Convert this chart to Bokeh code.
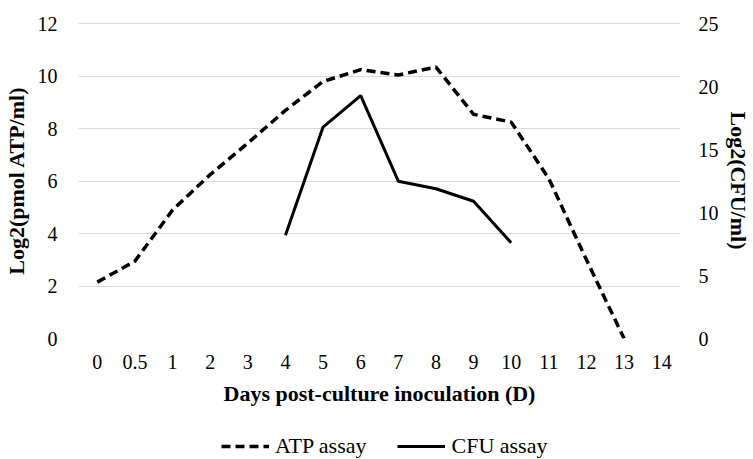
from bokeh.plotting import figure
from bokeh.layouts import column
from bokeh.models import (FactorRange, Range1d, LinearAxis, Legend, LegendItem,
                          ColumnDataSource, FixedTicker)
from bokeh.embed import file_html
from bokeh.resources import INLINE

# ---- data ----
days = ["0", "0.5", "1", "2", "3", "4", "5", "6", "7", "8", "9", "10", "11", "12", "13", "14"]
atp_days = ["0", "0.5", "1", "2", "3", "4", "5", "6", "7", "8", "9", "10", "11", "12", "13"]
atp_values = [2.15, 2.95, 4.9, 6.25, 7.45, 8.7, 9.8, 10.25, 10.05, 10.35, 8.55, 8.25, 6.1, 3.0, 0.0]
cfu_days = ["4", "5", "6", "7", "8", "9", "10"]
cfu_values = [8.2, 16.8, 19.3, 12.5, 11.9, 10.9, 7.6]
left_ticks = [0, 2, 4, 6, 8, 10, 12]
right_ticks = [0, 5, 10, 15, 20, 25]
series_names = ["ATP assay", "CFU assay"]

FONT = "Liberation Serif"
TOP = 12.05  # small headroom so the top grid line is drawn
ATP_STYLE = dict(line_color="black", line_width=3.5, line_dash="9 5")
CFU_STYLE = dict(line_color="black", line_width=3)

p = figure(width=753, height=430, output_backend="svg", toolbar_location=None,
           x_range=FactorRange(factors=days, range_padding=0),
           y_range=Range1d(0, TOP),
           min_border_left=78, min_border_right=72, min_border_top=22,
           min_border_bottom=92)
p.extra_y_ranges = {"cfu": Range1d(0, 25 * TOP / 12)}
p.outline_line_color = None
p.background_fill_color = "white"
p.border_fill_color = "white"

p.xgrid.grid_line_color = None
p.ygrid.grid_line_color = "#d9d9d9"
p.ygrid.grid_line_width = 1
p.yaxis.ticker = FixedTicker(ticks=left_ticks)

atp_src = ColumnDataSource(dict(x=atp_days, y=atp_values))
cfu_src = ColumnDataSource(dict(x=cfu_days, y=cfu_values))

p.line("x", "y", source=atp_src, **ATP_STYLE)
p.line("x", "y", source=cfu_src, y_range_name="cfu", **CFU_STYLE)

raxis = LinearAxis(y_range_name="cfu", ticker=FixedTicker(ticks=right_ticks),
                   axis_label="Log2(CFU/ml)")
p.add_layout(raxis, "right")

for ax in [p.xaxis[0], p.yaxis[0], raxis]:
    ax.axis_line_color = None
    ax.major_tick_line_color = None
    ax.minor_tick_line_color = None
    ax.major_label_text_font = FONT
    ax.major_label_text_font_size = "20px"
    ax.major_label_text_color = "black"
    ax.axis_label_text_font = FONT
    ax.axis_label_text_font_size = "22px"
    ax.axis_label_text_font_style = "bold"
    ax.axis_label_text_color = "black"

p.xaxis.axis_label = "Days post-culture inoculation (D)"
p.yaxis[0].axis_label = "Log2(pmol ATP/ml)"
p.xaxis.major_label_standoff = 10
p.xaxis.axis_label_standoff = 9
p.yaxis[0].major_label_standoff = 15
p.yaxis[0].axis_label_standoff = 6
raxis.major_label_standoff = 12
raxis.axis_label_standoff = 4

# ---- legend strip below the chart (series drawn out of view, legend only) ----
lg = figure(width=753, height=29, output_backend="svg", toolbar_location=None,
            x_range=FactorRange(factors=days, range_padding=0),
            y_range=Range1d(-100, -99),
            x_axis_location=None, y_axis_location=None,
            min_border_left=0, min_border_right=0, min_border_top=0,
            min_border_bottom=0)
lg.outline_line_color = None
lg.grid.grid_line_color = None
lg.background_fill_color = "white"
lg.border_fill_color = "white"
lg_atp = lg.line("x", "y", source=atp_src, **ATP_STYLE)
lg_cfu = lg.line("x", "y", source=cfu_src, **CFU_STYLE)
legend = Legend(items=[LegendItem(label=series_names[0], renderers=[lg_atp]),
                       LegendItem(label=series_names[1], renderers=[lg_cfu])],
                orientation="horizontal", location=(143, 0),
                label_text_font=FONT, label_text_font_size="22px",
                label_text_color="black",
                glyph_width=48, glyph_height=20, label_height=20,
                label_standoff=6, spacing=31, padding=0,
                margin=0, border_line_color=None, background_fill_alpha=0)
lg.add_layout(legend, "center")

layout = column(p, lg, spacing=0)
open("out.html", "w").write(file_html(layout, INLINE))
